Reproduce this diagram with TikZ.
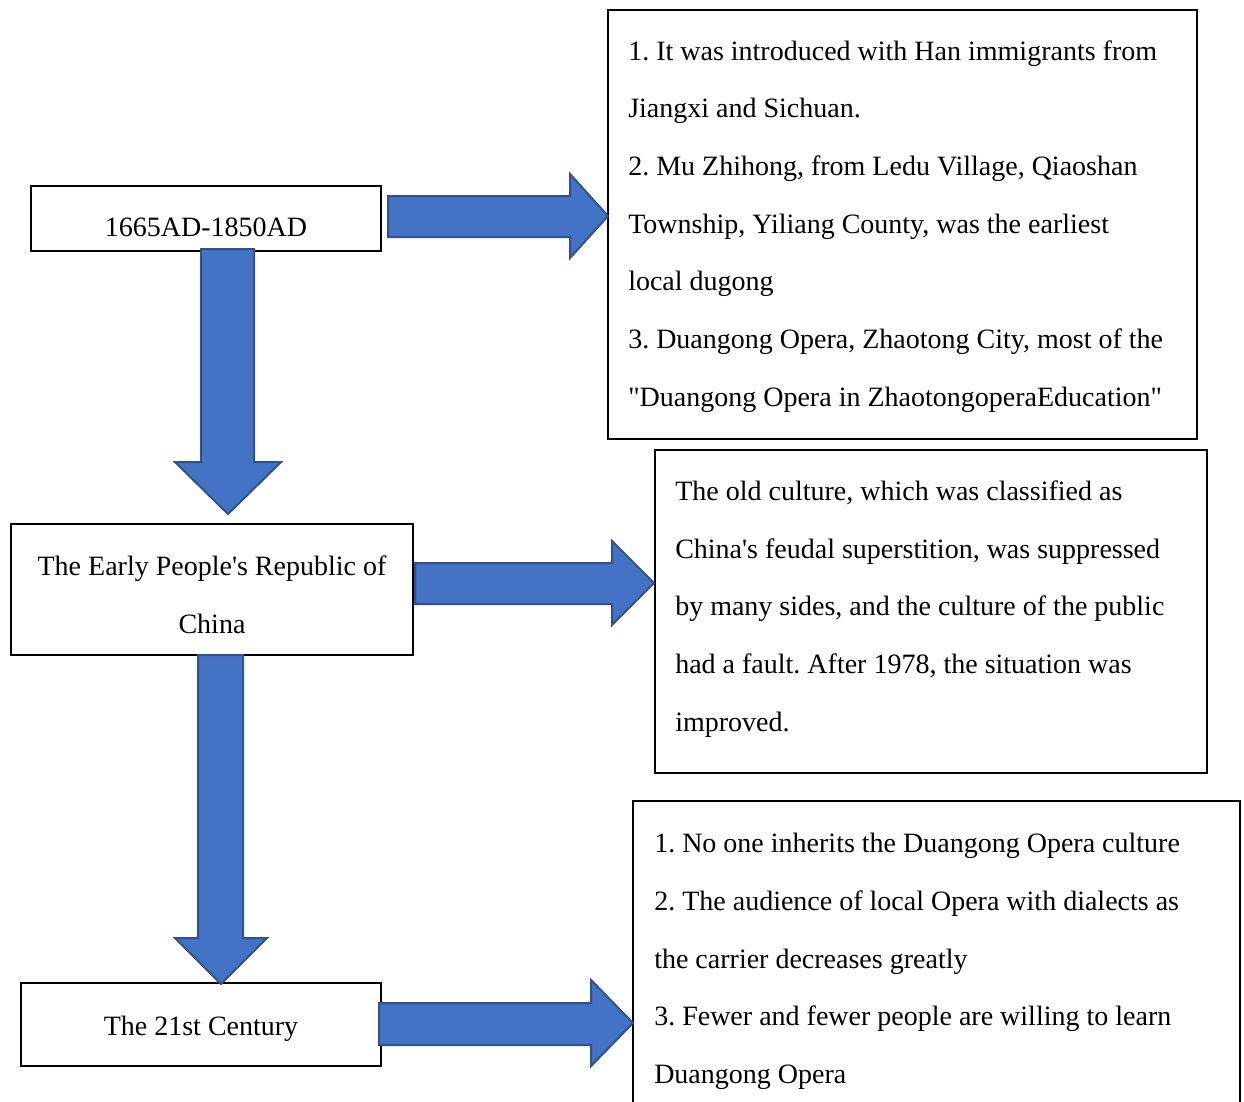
\documentclass[tikz,border=0pt]{standalone}
\usepackage{fontspec}
\setmainfont{Liberation Serif}[Ligatures=TeXOff]
\usetikzlibrary{fit}
\definecolor{arrowfill}{HTML}{4472C4}
\definecolor{arrowline}{HTML}{2F528F}
\frenchspacing
\tikzset{
  box/.style={draw=black, line width=1pt, fill=white, inner sep=0pt, rectangle},
  txt/.style={inner sep=0pt, font=\frenchspacing\fontsize{21}{43.3}\selectfont},
  fatarrow/.style={fill=arrowfill, draw=arrowline, line width=1.5pt, line join=miter}
}
\begin{document}
\begin{tikzpicture}[x=0.75pt, y=-0.75pt]
\clip (0,0) rectangle (1244,1101);
\fill[white] (0,0) rectangle (1244,1101);

% left boxes
\node[box, fit={(31,186) (381,251)}] (a) {};
\node[box, fit={(11,524) (413,655)}] (b) {};
\node[box, fit={(21,983) (381,1066)}] (c) {};
% right boxes
\node[box, fit={(608,10) (1197,439)}] (r1) {};
\node[box, fit={(655,450) (1207,773)}] (r2) {};
\node[box, fit={(633,801) (1240,1116)}] (r3) {};

% texts of left boxes
\node[txt, anchor=base] (at) at (206,236) {1665AD-1850AD};
\node[txt, anchor=base] (bt1) at (212,575) {The Early People's Republic of};
\node[txt, anchor=base] (bt2) at (212,633) {China};
\node[txt, anchor=base] (ct) at (201,1035) {The 21st Century};

% texts of right boxes
\node[txt, anchor=base west] (r1a) at (628,60) {1. It was introduced with Han immigrants from};
\node[txt, anchor=base west] (r1b) at (628,117) {Jiangxi and Sichuan.};
\node[txt, anchor=base west] (r1c) at (628,175) {2. Mu Zhihong, from Ledu Village, Qiaoshan};
\node[txt, anchor=base west] (r1d) at (628,233) {Township, Yiliang County, was the earliest};
\node[txt, anchor=base west] (r1e) at (628,290) {local dugong};
\node[txt, anchor=base west] (r1f) at (628,348) {3. Duangong Opera, Zhaotong City, most of the};
\node[txt, anchor=base west] (r1g) at (628,406) {"Duangong Opera in ZhaotongoperaEducation"};

\node[txt, anchor=base west] (r2a) at (675,500) {The old culture, which was classified as};
\node[txt, anchor=base west] (r2b) at (675,558) {China's feudal superstition, was suppressed};
\node[txt, anchor=base west] (r2c) at (675,615) {by many sides, and the culture of the public};
\node[txt, anchor=base west] (r2d) at (675,673) {had a fault. After 1978, the situation was};
\node[txt, anchor=base west] (r2e) at (675,731) {improved.};

\node[txt, anchor=base west] (r3a) at (654,852) {1. No one inherits the Duangong Opera culture};
\node[txt, anchor=base west] (r3b) at (654,910) {2. The audience of local Opera with dialects as};
\node[txt, anchor=base west] (r3c) at (654,968) {the carrier decreases greatly};
\node[txt, anchor=base west] (r3d) at (654,1025) {3. Fewer and fewer people are willing to learn};
\node[txt, anchor=base west] (r3e) at (654,1083) {Duangong Opera};

% block arrows
\draw[fatarrow] (388,196) -- (570,196) -- (570,174) -- (608,216) -- (570,258) -- (570,237) -- (388,237) -- cycle;
\draw[fatarrow] (201,249) -- (254,249) -- (254,462) -- (281,462) -- (228,514) -- (175,462) -- (201,462) -- cycle;
\draw[fatarrow] (415,563) -- (612,563) -- (612,541) -- (654,583) -- (612,625) -- (612,604) -- (415,604) -- cycle;
\draw[fatarrow] (198,655) -- (243,655) -- (243,938) -- (267,938) -- (221,984) -- (175,938) -- (198,938) -- cycle;
\draw[fatarrow] (379,1003) -- (591,1003) -- (591,980) -- (633,1023) -- (591,1066) -- (591,1045) -- (379,1045) -- cycle;
\end{tikzpicture}
\end{document}
